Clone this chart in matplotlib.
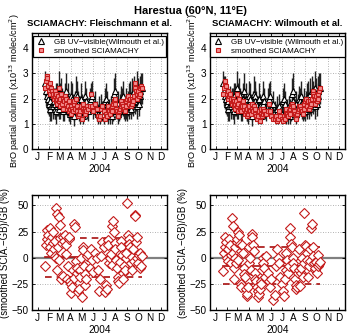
import matplotlib
matplotlib.use("Agg")
import matplotlib.pyplot as plt

plt.rcParams['font.family'] = ['Liberation Sans', 'DejaVu Sans']

# ---- data ----
days = [36, 38, 40, 42, 44, 46, 48, 50, 52, 54, 56, 58,
        60, 61, 63, 64, 66, 67, 69, 70, 72, 73, 75, 77, 79, 81, 83, 85, 87, 89,
        91, 93, 95, 97, 99, 101, 103, 105, 107, 109, 111, 113, 115, 117, 119,
        121, 123, 125, 127, 129, 131, 133, 135, 137, 139, 141, 143, 145, 147, 150,
        153, 156, 159, 162, 166, 170, 175, 179,
        182, 185, 188, 191, 194, 197, 200, 202, 205, 207, 210, 212,
        214, 216, 218, 220, 222, 224, 226, 228, 230, 232, 234, 236, 238, 240, 242,
        244, 246, 248, 250, 252, 254, 256, 258, 260, 262, 264, 266, 268, 270, 272,
        274, 276, 278, 280, 282, 284, 286, 288, 290, 292, 294, 296, 299]

gb = [2.6, 2.3, 2.5, 2.1, 2.0, 1.8, 1.9, 1.6, 1.7, 2.1, 1.8, 1.7,
      1.9, 1.6, 1.8, 2.1, 1.5, 1.7, 2.0, 1.8, 2.4, 1.6, 1.7, 2.0, 2.2, 1.9, 1.5, 1.8, 1.6, 2.0,
      2.3, 1.9, 1.7, 2.0, 1.6, 1.5, 1.4, 1.8, 2.1, 2.0, 1.7, 1.3, 1.6, 1.8, 2.2,
      2.1, 1.9, 1.8, 1.5, 1.4, 1.6, 2.0, 1.7, 1.5, 1.3, 1.6, 1.8, 2.1, 1.9, 1.6,
      1.5, 1.9, 2.0, 2.1, 1.6, 1.8, 1.5, 1.4,
      1.6, 1.3, 1.7, 1.5, 1.4, 1.9, 2.0, 1.8, 1.3, 1.5, 1.6, 1.4,
      1.7, 1.6, 1.3, 1.5, 2.2, 2.3, 1.9, 1.7, 1.6, 1.8, 1.4, 1.5, 1.7, 2.0, 1.8,
      1.9, 1.8, 2.1, 1.7, 1.5, 1.6, 1.9, 1.5, 1.8, 2.0, 1.7, 2.1, 1.6, 1.9, 2.2,
      1.8, 2.3, 1.9, 2.1, 2.0, 2.4, 1.7, 2.2, 1.8, 2.3, 2.1, 2.4, 2.4]

gb_err = [0.5, 0.6, 0.4, 0.5, 0.6, 0.5, 0.4, 0.5, 0.6, 0.4, 0.5, 0.5,
          0.5, 0.4, 0.6, 0.5, 0.5, 0.4, 0.6, 0.5, 0.7, 0.4, 0.5, 0.6, 0.6, 0.5, 0.4, 0.5, 0.5, 0.6,
          0.7, 0.5, 0.4, 0.6, 0.5, 0.4, 0.4, 0.5, 0.6, 0.6, 0.5, 0.4, 0.5, 0.5, 0.7,
          0.6, 0.5, 0.5, 0.4, 0.4, 0.5, 0.6, 0.5, 0.4, 0.3, 0.4, 0.5, 0.6, 0.5, 0.4,
          0.4, 0.5, 0.6, 0.6, 0.4, 0.5, 0.4, 0.4,
          0.5, 0.3, 0.5, 0.4, 0.4, 0.5, 0.6, 0.5, 0.3, 0.4, 0.4, 0.4,
          0.4, 0.4, 0.3, 0.4, 0.6, 0.7, 0.5, 0.4, 0.4, 0.5, 0.4, 0.4, 0.5, 0.5, 0.5,
          0.5, 0.5, 0.6, 0.5, 0.4, 0.4, 0.5, 0.4, 0.5, 0.6, 0.5, 0.6, 0.4, 0.5, 0.6,
          0.5, 0.6, 0.5, 0.6, 0.5, 0.7, 0.5, 0.6, 0.5, 0.6, 0.5, 0.6, 0.6]

scia_f = [2.4, 2.7, 2.9, 2.8, 2.5, 2.3, 2.6, 2.2, 2.4, 2.3, 2.1, 2.2,
          2.0, 2.1, 2.3, 1.9, 2.2, 2.0, 1.8, 2.1, 2.4, 1.9, 2.0, 1.7, 2.2, 1.8, 2.0, 1.6, 1.9, 2.1,
          1.8, 2.0, 1.6, 1.7, 1.9, 1.5, 1.6, 1.4, 1.7, 1.6, 1.5, 1.8, 1.9, 1.6, 2.0,
          1.7, 1.5, 1.3, 1.4, 1.6, 1.5, 1.7, 1.2, 1.8, 1.6, 1.5, 1.4, 1.6, 1.5, 1.7,
          1.6, 1.7, 2.2, 1.7, 1.5, 1.8, 1.6, 1.3,
          1.2, 1.3, 1.6, 1.7, 1.5, 1.2, 1.4, 1.3, 1.6, 1.7, 1.5, 1.4,
          1.6, 1.5, 1.7, 1.8, 1.9, 2.0, 1.8, 1.6, 1.5, 1.4, 1.3, 1.5, 1.6, 1.9, 1.7,
          1.8, 1.6, 1.7, 1.6, 1.5, 1.7, 1.9, 2.0, 2.1, 1.9, 1.8, 2.0, 1.7, 1.8, 2.0,
          1.9, 2.1, 2.6, 2.4, 2.3, 2.2, 2.0, 2.3, 2.1, 2.4, 2.2, 2.5, 2.4]

scia_w = [2.2, 2.4, 2.6, 2.7, 2.5, 2.2, 2.3, 2.0, 2.1, 2.2, 1.9, 2.0,
          1.8, 1.9, 2.0, 1.7, 1.9, 1.8, 1.6, 1.9, 2.2, 1.7, 1.8, 1.5, 2.0, 1.6, 1.7, 1.5, 1.7, 1.9,
          1.6, 1.7, 1.4, 1.5, 1.6, 1.3, 1.4, 1.5, 1.7, 1.5, 1.4, 1.6, 1.8, 1.5, 1.7,
          1.6, 1.4, 1.3, 1.2, 1.4, 1.3, 1.5, 1.1, 1.6, 1.4, 1.3, 1.4, 1.6, 1.5, 1.4,
          1.4, 1.5, 1.8, 1.5, 1.3, 1.2, 1.2, 1.3,
          1.1, 1.2, 1.5, 1.3, 1.2, 1.1, 1.3, 1.2, 1.4, 1.6, 1.4, 1.3,
          1.5, 1.4, 1.6, 1.7, 1.8, 1.6, 1.7, 1.5, 1.4, 1.3, 1.2, 1.4, 1.5, 1.7, 1.6,
          1.7, 1.5, 1.6, 1.5, 1.4, 1.6, 1.8, 1.9, 2.0, 1.8, 1.7, 1.9, 1.6, 1.7, 1.9,
          1.8, 2.0, 2.3, 2.2, 2.1, 2.0, 1.8, 2.1, 1.9, 2.2, 2.0, 2.3, 2.4]

diff_f = [-8, 12, 18, 27, 22, 15, 28, 10, 5, 20, 14, 25,
          8, 2, 16, 0, 48, 42, -12, 10, -2, 39, 31, 19, -20, 14, 20, -17, 16, 22,
          4, 12, -20, -8, 18, 20, -22, -25, -34, -28, -12, -19, 32, 29, -3,
          -15, -10, -33, -30, -12, -18, 0, -38, 10, 7, -8, -16, -26, -20, 2,
          4, -10, 8, -2, -14, 5, 0, -12,
          -32, -20, 2, 15, 10, -33, -26, -30, 17, 12, -5, 0,
          4, -7, 30, 35, 25, 14, 8, -2, -10, -18, -22, -24, -4, 16, 10,
          3, -15, -20, -8, -12, 0, 5, 52, 22, 18, 13, 10, -5, -12, 1,
          8, -3, 41, 40, 15, 20, 0, -5, 3, 5, -10, -8, 2]

diff_w = [-13, 5, 20, 10, 15, 0, -3, 8, 18, 12, -5, 3,
          38, 30, 5, -10, -20, 10, 0, -5, 15, 18, -2, 25, 22, 13, -25, -28, 12, 5,
          -10, -16, -18, -30, -37, -35, -28, -5, 10, 0, -12, 23, 20, 12, 6,
          -15, -20, -22, -28, -32, -38, -35, -30, -22, -25, -12, 0, -5, -10, -18,
          2, -15, -22, -28, -20, -40, -36, -8,
          8, 0, -5, -18, -25, -32, -37, -20, -12, 5, -2, -15,
          -8, 20, 28, 13, 10, 0, -5, -10, -20, -26, -30, -28, -15, 8, -12,
          -27, -15, -10, 0, -18, -5, 43, 12, 11, 5, -2, -18, -8, -3, 8,
          28, 32, 10, 2, -5, -12, -10, -4, -15, 3, -8, -6, -4]

# mean and mean +/- std levels
stats_f = [0.5, 18.5, -18.0]
stats_w = [-7.5, 10.0, -25.0]

month_labels = ['J', 'F', 'M', 'A', 'M', 'J', 'J', 'A', 'S', 'O', 'N', 'D']
month_mid = [15, 46, 74, 105, 135, 166, 196, 227, 258, 288, 319, 349]

titles = ['SCIAMACHY: Fleischmann et al.', 'SCIAMACHY: Wilmouth et al.']
gb_labels = ['GB UV\u2212visible(Wilmouth et al.)', 'GB UV\u2212visible (Wilmouth et al.)']

W, H = 350, 335
fig = plt.figure(figsize=(W / 100, H / 100), dpi=100)

def fr(x0, y0, x1, y1):
    return [x0 / W, 1 - y1 / H, (x1 - x0) / W, (y1 - y0) / H]

top_axes = [fig.add_axes(fr(32, 33, 167, 149)), fig.add_axes(fr(210, 33, 345, 149))]
bot_axes = [fig.add_axes(fr(32, 195, 167, 310)), fig.add_axes(fr(210, 195, 345, 310))]

FS = 7.2
red = '#c41a1a'
dark_red = '#a80f0f'

def style_x(ax, grid_x=True):
    ax.set_xlim(0, 366)
    ax.set_xticks(month_mid)
    ax.set_xticklabels(month_labels, fontsize=FS)
    ax.set_xlabel('2004', fontsize=FS, labelpad=1)
    ax.tick_params(direction='in', top=True, right=True, length=2, width=0.6, pad=2.5)
    if grid_x:
        for d in month_mid:
            ax.axvline(d, color='#999999', ls=(0, (1, 2)), lw=0.6, zorder=0)
    for sp in ax.spines.values():
        sp.set_linewidth(1.0)

scias = [scia_f, scia_w]
for i, ax in enumerate(top_axes):
    ax.errorbar(days, gb, yerr=gb_err, fmt='none', ecolor='#222222', elinewidth=1.0,
                capsize=0, zorder=2)
    ax.plot(days, gb, ls='none', marker='^', ms=3.8, mfc='white', mec='black', mew=0.8,
            zorder=3, label=gb_labels[i])
    ax.plot(days, scias[i], ls='none', marker='s', ms=3.4, mfc='#f49090', mec=red, mew=0.8,
            zorder=4, label='smoothed SCIAMACHY')
    ax.set_ylim(0, 4.6)
    ax.set_yticks([0, 1, 2, 3, 4])
    ax.set_yticklabels(['0', '1', '2', '3', '4'], fontsize=FS)
    for yv in [1, 2, 3, 4]:
        ax.axhline(yv, color='#999999', ls=(0, (1, 2)), lw=0.6, zorder=0)
    style_x(ax)
    ax.set_title(titles[i], fontsize=6.8, fontweight='bold', pad=5)
    ax.set_ylabel('BrO partial column (x10$^{13}$ molec/cm$^2$)', fontsize=6.6, labelpad=1)
    leg = ax.legend(loc='upper center', fontsize=5.8, frameon=True, fancybox=False,
                    borderpad=0.3, labelspacing=0.2, handletextpad=0.8, handlelength=1.5,
                    bbox_to_anchor=(0.5, 0.985), borderaxespad=0.1)
    leg.get_frame().set_edgecolor('black')
    leg.get_frame().set_linewidth(0.9)
    leg.get_frame().set_alpha(1)

diffs = [diff_f, diff_w]
stats = [stats_f, stats_w]
for i, ax in enumerate(bot_axes):
    ax.axhline(0, color='#808080', lw=1.6, zorder=1)
    for yv in [50, 25, -25]:
        ax.axhline(yv, color='#999999', ls=(0, (1, 2)), lw=0.6, zorder=0)
    x0, x1 = days[0], days[-1]
    ax.plot([x0, x1], [stats[i][0]] * 2, color=dark_red, lw=1.2, zorder=2)
    ax.plot([x0, x1], [stats[i][1]] * 2, color=dark_red, lw=1.2, ls=(0, (4, 3)), zorder=2)
    ax.plot([x0, x1], [stats[i][2]] * 2, color=dark_red, lw=1.2, ls=(0, (4, 3)), zorder=2)
    ax.plot(days, diffs[i], ls='none', marker='D', ms=4.6, mfc='white', mec=red, mew=0.8,
            zorder=3)
    ax.set_ylim(-50, 60)
    ax.set_yticks([-50, -25, 0, 25, 50])
    ax.set_yticklabels(['\u221250', '\u221225', '0', '25', '50'], fontsize=FS)
    style_x(ax, grid_x=False)
    ax.set_ylabel('(smoothed SCIA.\u2212GB)/GB (%)', fontsize=6.9, labelpad=1)

fig.text(190 / W, 0.982, 'Harestua (60\u00b0N, 11\u00b0E)', ha='center', va='top',
         fontsize=8.0, fontweight='bold')

fig.savefig('out.png', dpi=100)
